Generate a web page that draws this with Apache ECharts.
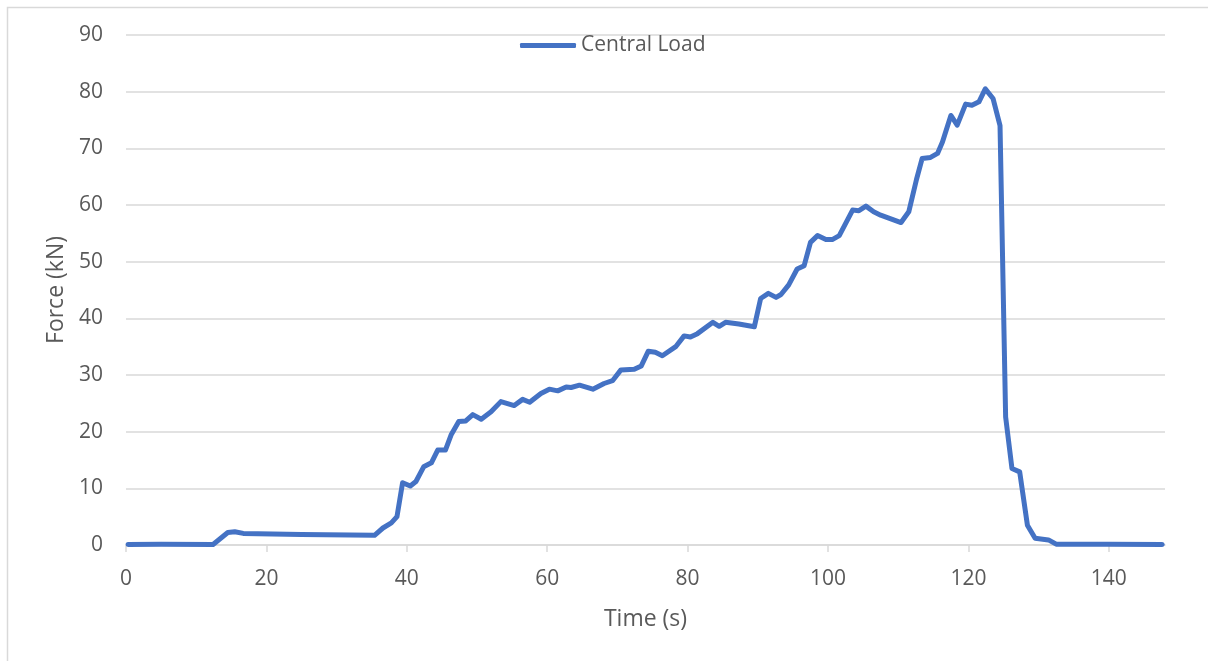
<!DOCTYPE html>
<html>
<head>
<meta charset="utf-8">
<title>Central Load</title>
<script src="https://cdn.jsdelivr.net/npm/echarts@6/dist/echarts.min.js"></script>
<style>
  html, body { margin: 0; padding: 0; background: #ffffff; }
  #chart { width: 1208px; height: 661px; }
</style>
</head>
<body>
<div id="chart"></div>
<script>
// Central load measured over the test duration
const timeS = [
  0.3, 5, 12.4, 14.5, 15.5, 16.7, 25, 35.4, 36.6, 37.8, 38.6, 39.4, 40.5, 41.3,
  42.4, 43.5, 44.4, 45.5, 46.3, 47.4, 48.4, 49.4, 50.6, 52.0, 53.4, 55.3, 56.5,
  57.5, 59.1, 60.3, 61.5, 62.7, 63.4, 64.6, 66.5, 68.1, 69.3, 70.5, 72.4, 73.4,
  74.4, 75.4, 76.4, 78.3, 79.5, 80.4, 81.4, 83.6, 84.5, 85.4, 87.3, 89.5, 90.4,
  91.5, 92.6, 93.3, 94.4, 95.6, 96.6, 97.5, 98.5, 99.7, 100.6, 101.6, 103.5,
  104.4, 105.4, 106.5, 107.5, 110.4, 111.5, 112.6, 113.4, 114.6, 115.6, 116.3,
  117.5, 118.4, 119.6, 120.5, 121.5, 122.4, 123.5, 124.5, 125.3, 126.2, 127.3,
  128.4, 129.5, 131.4, 132.5, 140, 147.6
];
const forceKN = [
  0.1, 0.15, 0.1, 2.2, 2.35, 2.05, 1.85, 1.7, 3.0, 3.9, 5.0, 11.0, 10.4, 11.2,
  13.8, 14.5, 16.75, 16.75, 19.4, 21.8, 21.9, 23.0, 22.2, 23.5, 25.3, 24.6, 25.7,
  25.2, 26.75, 27.5, 27.2, 27.9, 27.8, 28.2, 27.5, 28.5, 29.0, 30.9, 31.0, 31.6,
  34.2, 34.0, 33.4, 35.0, 36.9, 36.7, 37.3, 39.3, 38.6, 39.3, 39.0, 38.5, 43.5,
  44.4, 43.7, 44.2, 45.9, 48.7, 49.3, 53.4, 54.6, 53.9, 53.9, 54.6, 59.1,
  59.0, 59.8, 58.8, 58.2, 56.9, 58.8, 64.5, 68.2, 68.4, 69.1, 71.1,
  75.8, 74.1, 77.8, 77.6, 78.2, 80.5, 78.8, 74.0, 22.6, 13.5, 12.9,
  3.5, 1.2, 0.9, 0.15, 0.15, 0.1
];
const xTicks = [0, 20, 40, 60, 80, 100, 120, 140];
const seriesName = 'Central Load';

const points = timeS.map((t, i) => [t, forceKN[i]]);

const FONT = '"Open Sans", "Noto Sans", sans-serif';
const TEXT = '#595959';
const GRID = '#d9d9d9';
const BLUE = '#4472C4';

const chart = echarts.init(document.getElementById('chart'), null, { renderer: 'canvas' });
chart.setOption({
  animation: false,
  backgroundColor: '#ffffff',
  textStyle: { fontFamily: FONT },
  graphic: [{
    type: 'rect',
    left: 5, top: 5,
    shape: { width: 1400, height: 900 },
    style: { fill: 'none', stroke: GRID, lineWidth: 1.5 },
    silent: true
  }],
  legend: {
    left: 520, top: 35,
    padding: 0,
    icon: 'roundRect',
    itemWidth: 56, itemHeight: 5,
    itemStyle: { color: BLUE },
    textStyle: { color: TEXT, fontSize: 21, fontFamily: FONT },
    data: [seriesName]
  },
  grid: { left: 126, right: 43, top: 35, bottom: 116 },
  xAxis: {
    type: 'value',
    min: 0, max: 148, interval: 20,
    name: 'Time (s)',
    nameLocation: 'middle',
    nameGap: 63,
    nameTextStyle: { color: TEXT, fontSize: 23, fontFamily: FONT },
    axisLine: { show: true, lineStyle: { color: GRID, width: 1.5 } },
    axisTick: { show: true, length: 7, customValues: xTicks, lineStyle: { color: GRID, width: 1.5 } },
    axisLabel: { customValues: xTicks, color: TEXT, fontSize: 21, fontFamily: FONT, margin: 24 },
    splitLine: { show: false }
  },
  yAxis: {
    type: 'value',
    min: 0, max: 90, interval: 10,
    name: 'Force (kN)',
    nameLocation: 'middle',
    nameGap: 58,
    nameTextStyle: { color: TEXT, fontSize: 23, fontFamily: FONT },
    axisLine: { show: false },
    axisTick: { show: false },
    axisLabel: { color: TEXT, fontSize: 21, fontFamily: FONT, margin: 23 },
    splitLine: { show: true, lineStyle: { color: GRID, width: 1.5 } }
  },
  series: [{
    name: seriesName,
    type: 'line',
    data: points,
    symbol: 'none',
    smooth: false,
    lineStyle: { color: BLUE, width: 5, cap: 'round', join: 'round' },
    itemStyle: { color: BLUE }
  }]
});
</script>
</body>
</html>
